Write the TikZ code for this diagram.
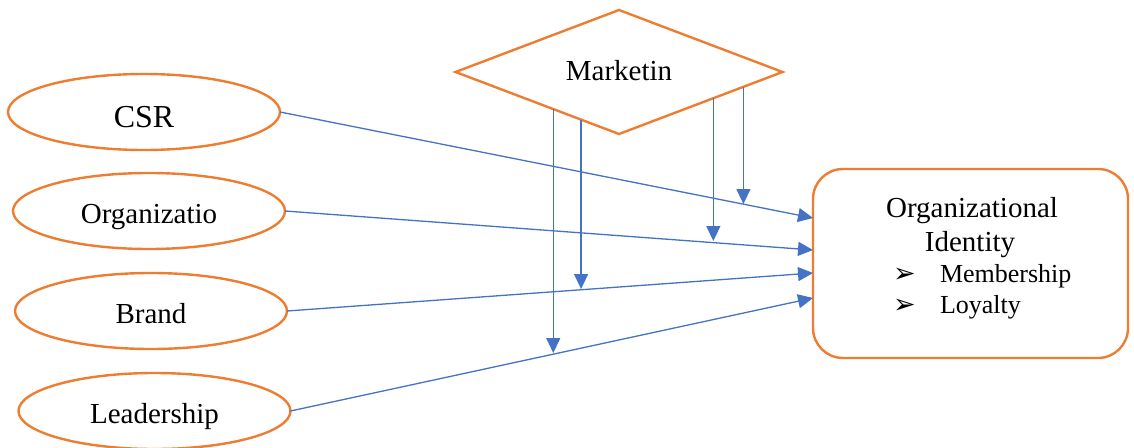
\documentclass[tikz,border=0pt]{standalone}
\usepackage{fontspec}
\setmainfont{Liberation Serif}
\newfontfamily\symfont{DejaVu Sans}
\usetikzlibrary{shapes.geometric,arrows.meta,calc}
\definecolor{edgeorange}{HTML}{ED7D31}
\definecolor{linkblue}{HTML}{4472C4}

\begin{document}
\begin{tikzpicture}[x=1pt,y=-1pt,
  oval/.style={ellipse,draw=edgeorange,line width=2.4pt,minimum width=272pt,
    minimum height=76pt,inner sep=0pt,outer sep=0pt,text height=25pt,text depth=0pt,
    font=\fontsize{29}{33}\selectfont},
  link/.style={draw=linkblue,line width=1.3pt,-{Triangle[length=15pt,width=14pt]}},
  txt/.style={inner sep=0pt,outer sep=0pt},
  ]
\useasboundingbox (0,0) rectangle (1134,447);

% factor ovals
\node[oval,text height=30pt,font=\fontsize{32}{36}\selectfont] (csr) at (144,112) {CSR};
\node[oval] (org) at (149,211) {Organizatio};
\node[oval] (brd) at (151,311) {Brand};
\node[oval] (ldr) at (154.5,411) {Leadership};

% moderator
\node[diamond,draw=edgeorange,line width=2.4pt,minimum width=327pt,minimum height=124pt,
  inner sep=0pt,outer sep=0pt,text height=16pt,text depth=0pt,
  font=\fontsize{29}{33}\selectfont] (mk) at (619,72) {Marketin};

% outcome box
\node[draw=edgeorange,line width=2.4pt,rounded corners=30pt,minimum width=315pt,
  minimum height=189pt,inner sep=0pt,outer sep=0pt] (oi) at (970.5,263.5) {};
\node[txt,anchor=base,font=\fontsize{29}{33}\selectfont] (t1) at (972,217) {Organizational};
\node[txt,anchor=base,font=\fontsize{29}{33}\selectfont] (t2) at (970,251) {Identity};
\node[txt,anchor=base west,font=\fontsize{27}{30}\symfont] (b1) at (893,282) {➢};
\node[txt,anchor=base west,font=\fontsize{26}{30}\selectfont] (m1) at (940,282) {Membership};
\node[txt,anchor=base west,font=\fontsize{27}{30}\symfont] (b2) at (893,313) {➢};
\node[txt,anchor=base west,font=\fontsize{26}{30}\selectfont] (m2) at (940,313) {Loyalty};

% arrow targets on the box edge
\coordinate (e1) at ($(oi.north west)+(0,49)$);
\coordinate (e2) at ($(oi.north west)+(0,81)$);
\coordinate (e3) at ($(oi.north west)+(0,104)$);
\coordinate (e4) at ($(oi.north west)+(0,129)$);

\draw[link] (csr.east) -- (e1);
\draw[link] (org.east) -- (e2);
\draw[link] (brd.east) -- (e3);
\draw[link] (ldr.east) -- (e4);

% moderating arrows from the diamond edges
\coordinate (s1) at ($(mk.west)!0.598!(mk.south)$);
\coordinate (s2) at ($(mk.west)!0.768!(mk.south)$);
\coordinate (s3) at ($(mk.south)!0.577!(mk.east)$);
\coordinate (s4) at ($(mk.south)!0.761!(mk.east)$);
\coordinate (d1) at (0,353);
\coordinate (d2) at (0,289);
\coordinate (d3) at (0,241);
\coordinate (d4) at (0,204);

\draw[link] (s1) -- (s1 |- d1);
\draw[link] (s2) -- (s2 |- d2);
\draw[link] (s3) -- (s3 |- d3);
\draw[link] (s4) -- (s4 |- d4);
\end{tikzpicture}
\end{document}
